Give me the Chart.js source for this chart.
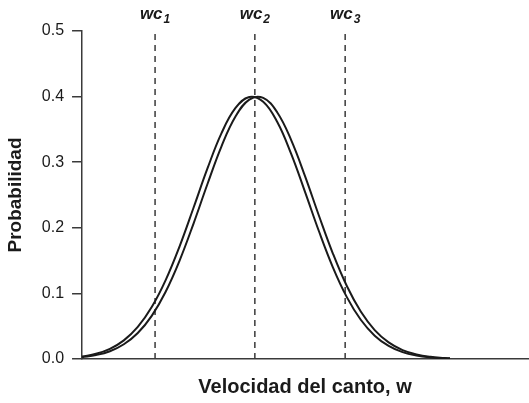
<!DOCTYPE html>
<html>
<head>
<meta charset="utf-8">
<script src="https://cdn.jsdelivr.net/npm/chart.js@4"></script>
<style>
  html, body { margin: 0; padding: 0; background: #fff; }
  #wrap { width: 529px; height: 403px; }
</style>
</head>
<body>
<div id="wrap"><canvas id="chart"></canvas></div>
<script>
// x positions along "Velocidad del canto, w" (axis has no tick labels)
const wVals = [0, 0.25, 0.5, 0.75, 1.0, 1.25, 1.5, 1.75, 2.0, 2.25, 2.5, 2.75, 3.0, 3.25,
    3.5, 3.75, 4.0, 4.25, 4.5, 4.75, 5.0, 5.25, 5.5, 5.75, 6.0, 6.25, 6.5, 6.6]

// left curve (slightly earlier peak)
const probA = [0.0038, 0.0079, 0.0155, 0.0284, 0.0489, 0.0792, 0.1203, 0.1718, 0.2306, 0.2905,
    0.3439, 0.3824, 0.3995, 0.3921, 0.3616, 0.3131, 0.2548, 0.1947, 0.1398, 0.0943, 0.0598,
    0.0356, 0.0199, 0.0104, 0.0052, 0.0024, 0.0010, 0.0007]

// right curve
const probB = [0.0028, 0.0060, 0.0119, 0.0225, 0.0397, 0.0658, 0.1026, 0.1501, 0.2065, 0.2668,
    0.3239, 0.3692, 0.3955, 0.3980, 0.3762, 0.3341, 0.2788, 0.2184, 0.1608, 0.1112, 0.0723,
    0.0441, 0.0253, 0.0136, 0.0069, 0.0033, 0.0015, 0.0010]

// critical speeds (dashed lines)
const wcNames = ['1', '2', '3']
const wcVals = [1.31, 3.10, 4.72]

const yTicks = [0, 0.1, 0.2, 0.3, 0.4, 0.5]

const lineColor = '#1a1a1a'
const axisColor = '#3a3a3a'
const fontFam = '"Liberation Sans", Arial, sans-serif'

var datasets = [
    {
        data: wVals.map((w, i) => ({ x: w, y: probA[i] })),
        borderColor: lineColor,
        borderWidth: 2,
        pointRadius: 0,
        tension: 0.4,
        fill: false
    },
    {
        data: wVals.map((w, i) => ({ x: w, y: probB[i] })),
        borderColor: lineColor,
        borderWidth: 2,
        pointRadius: 0,
        tension: 0.4,
        fill: false
    }
]

wcVals.forEach(w => {
    datasets.push({
        data: [{ x: w, y: 0 }, { x: w, y: 0.5 }],
        borderColor: axisColor,
        borderWidth: 1.5,
        borderDash: [6, 5],
        pointRadius: 0,
        fill: false
    })
})

// "wc" labels with subscript above each dashed line
const wcLabels = {
    id: 'wcLabels',
    afterDraw(chart) {
        const ctx = chart.ctx
        const xs = chart.scales.x
        ctx.save()
        ctx.fillStyle = '#1a1a1a'
        ctx.textBaseline = 'alphabetic'
        ctx.textAlign = 'left'
        wcVals.forEach((w, i) => {
            const px = xs.getPixelForValue(w)
            ctx.font = 'italic bold 17px ' + fontFam
            const mainW = ctx.measureText('wc').width
            ctx.font = 'italic bold 12px ' + fontFam
            const subW = ctx.measureText(wcNames[i]).width
            const left = px - (mainW + subW + 1) / 2
            ctx.font = 'italic bold 17px ' + fontFam
            ctx.fillText('wc', left, 19)
            ctx.font = 'italic bold 12px ' + fontFam
            ctx.fillText(wcNames[i], left + mainW + 1, 23)
        })
        ctx.restore()
    }
}

new Chart(document.getElementById('chart'), {
    type: 'line',
    data: { datasets: datasets },
    options: {
        responsive: true,
        maintainAspectRatio: false,
        animation: false,
        layout: { padding: { top: 31, right: 1, left: 4, bottom: 2 } },
        plugins: {
            legend: { display: false },
            tooltip: { enabled: false }
        },
        scales: {
            x: {
                type: 'linear',
                min: 0,
                max: 8,
                ticks: { display: false },
                grid: { display: false, drawTicks: false },
                border: { display: true, color: axisColor, width: 1.5 },
                title: {
                    display: true,
                    text: 'Velocidad del canto, w',
                    color: '#1a1a1a',
                    font: { family: fontFam, size: 20, weight: 'bold' },
                    padding: { top: 16, bottom: 2 }
                }
            },
            y: {
                min: 0,
                max: 0.5,
                afterBuildTicks: axis => { axis.ticks = yTicks.map(v => ({ value: v })) },
                ticks: {
                    color: '#1a1a1a',
                    padding: 8,
                    font: { family: fontFam, size: 16 },
                    callback: v => v.toFixed(1)
                },
                grid: { drawOnChartArea: false, drawTicks: true, tickLength: 10, color: axisColor, lineWidth: 1.5 },
                border: { display: true, color: axisColor, width: 1.5 },
                title: {
                    display: true,
                    text: 'Probabilidad',
                    color: '#1a1a1a',
                    font: { family: fontFam, size: 19, weight: 'bold' },
                    padding: { top: 0, bottom: 7 }
                }
            }
        }
    },
    plugins: [wcLabels]
});
</script>
</body>
</html>
